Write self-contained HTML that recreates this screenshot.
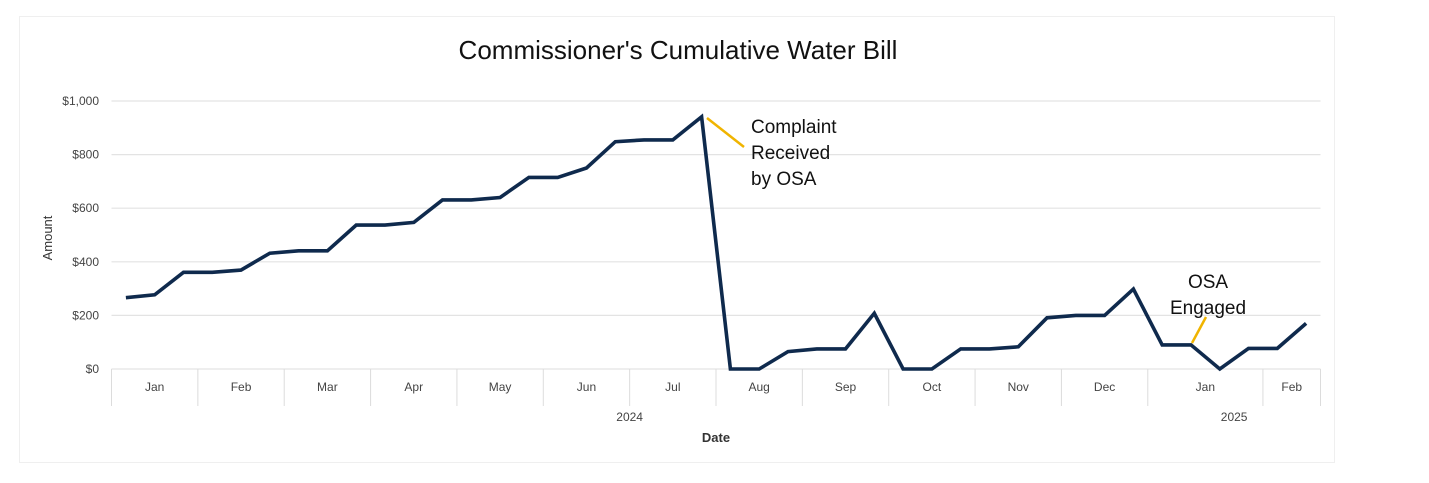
<!DOCTYPE html>
<html><head><meta charset="utf-8"><style>
html,body{margin:0;padding:0;background:#fff;}
svg{display:block;font-family:"Liberation Sans",sans-serif;}
</style></head><body>
<svg id="chart" width="1429" height="483">
<rect x="19.5" y="16.5" width="1315" height="446" fill="#fff" stroke="#efefef"/>
<text x="678" y="59" text-anchor="middle" font-size="26" fill="#111">Commissioner's Cumulative Water Bill</text>
<text transform="translate(52,238) rotate(-90)" text-anchor="middle" font-size="13" fill="#333">Amount</text>
<text x="716" y="442" text-anchor="middle" font-size="13" font-weight="bold" fill="#333">Date</text>
<g id="grid"></g><g id="xaxis"></g><g id="series"></g>
<line x1="707" y1="118" x2="744" y2="147" stroke="#f0b400" stroke-width="2.5"/>
<text font-size="19" fill="#111"><tspan x="751" y="133">Complaint</tspan><tspan x="751" y="159">Received</tspan><tspan x="751" y="185">by OSA</tspan></text>
<line x1="1192" y1="343" x2="1206" y2="317" stroke="#f0b400" stroke-width="2.5"/>
<text font-size="19" fill="#111" text-anchor="middle"><tspan x="1208" y="288">OSA</tspan><tspan x="1208" y="314">Engaged</tspan></text>
</svg>
<script>
const values = [266,277,361,361,369,432,441,441,537,537,547,631,631,640,715,715,750,848,855,855,941,
0,0,65,75,75,208,0,0,75,75,83,191,200,200,298,90,90,0,77,77,170];
const months = ["Jan","Feb","Mar","Apr","May","Jun","Jul","Aug","Sep","Oct","Nov","Dec","Jan","Feb"];
const monthCounts = [3,3,3,3,3,3,3,3,3,3,3,3,4,2];
const years = ["2024","2025"];
const yearMonthCounts = [12,2];
const yTicks = [0,200,400,600,800,1000];
const yLabels = ["$0","$200","$400","$600","$800","$1,000"];

const NS="http://www.w3.org/2000/svg";
const X0=111.5, X1=1320.5, Y0=369, Ymax=101;
const n=values.length, step=(X1-X0)/n;
const xAt=i=>X0+step*(i+0.5);
const xEdge=i=>X0+step*i;
const yAt=v=>Y0-(v/1000)*(Y0-Ymax);
function mk(tag,attrs,parent){const e=document.createElementNS(NS,tag);for(const k in attrs)e.setAttribute(k,attrs[k]);parent.appendChild(e);return e;}
const grid=document.getElementById('grid');
yTicks.forEach((t,i)=>{
  const y=yAt(t);
  const l=mk('line',{x1:X0,x2:X1,y1:y,y2:y,stroke:'#e3e3e3','stroke-width':1.2},grid);
  
  
  const tx=mk('text',{x:99,y:y+4,'text-anchor':'end','font-size':12,fill:'#444'},grid);
  tx.textContent=yLabels[i];
  
  
});
const xa=document.getElementById('xaxis');
let idx=0;
const b0=mk('line',{x1:X0,x2:X0,y1:Y0,y2:406,stroke:'#dcdcdc'},xa);


months.forEach((m,i)=>{
  const s=xEdge(idx), e=xEdge(idx+monthCounts[i]);
  const t=mk('text',{x:(s+e)/2,y:391,'text-anchor':'middle','font-size':12,fill:'#444'},xa);
  t.textContent=m;
  
  
  const d=mk('line',{x1:e,x2:e,y1:Y0,y2:406,stroke:'#dcdcdc'},xa);
  
  
  idx+=monthCounts[i];
});
let mi=0, pi=0;
years.forEach((yr,i)=>{
  let c=0; for(let k=0;k<yearMonthCounts[i];k++) c+=monthCounts[mi+k];
  const s=xEdge(pi), e=xEdge(pi+c);
  const t=mk('text',{x:(s+e)/2,y:421,'text-anchor':'middle','font-size':12,fill:'#444'},xa);
  t.textContent=yr;
  
  
  mi+=yearMonthCounts[i]; pi+=c;
});
const pts=values.map((v,i)=>xAt(i).toFixed(1)+','+yAt(v).toFixed(1)).join(' ');
const pl=mk('polyline',{points:pts,fill:'none',stroke:'#0f2a4d','stroke-width':3.6,'stroke-linejoin':'miter','stroke-linecap':'butt'},document.getElementById('series'));


</script>
</body></html>
